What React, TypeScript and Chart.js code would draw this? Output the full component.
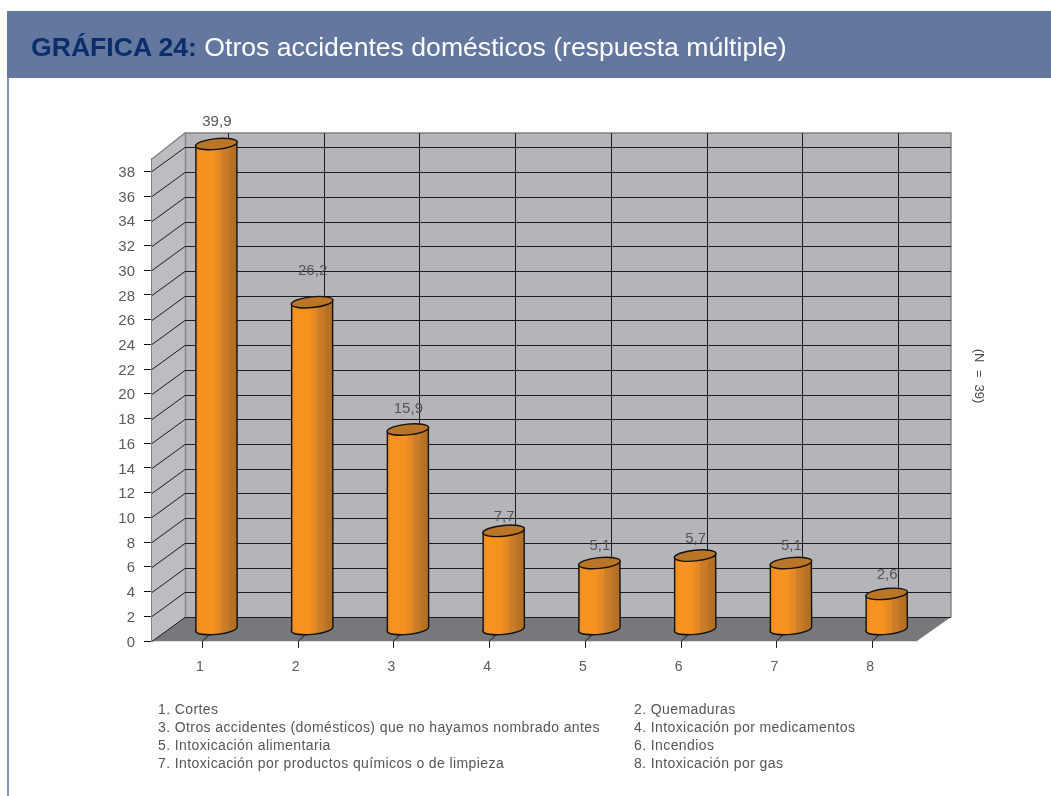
import React, { useEffect, useRef } from "react";
import { Chart, registerables } from "chart.js";

Chart.register(...registerables);

const categories = ["1", "2", "3", "4", "5", "6", "7", "8"];
const seriesValues = [39.9, 26.2, 15.9, 7.7, 5.1, 5.7, 5.1, 2.6];
const valueLabels = ["39,9", "26,2", "15,9", "7,7", "5,1", "5,7", "5,1", "2,6"];
const legendLeft = ["1. Cortes", "3. Otros accidentes (domésticos) que no hayamos nombrado antes", "5. Intoxicación alimentaria", "7. Intoxicación por productos químicos o de limpieza"];
const legendRight = ["2. Quemaduras", "4. Intoxicación por medicamentos", "6. Incendios", "8. Intoxicación por gas"];
const titleStrong = "GRÁFICA 24:";
const titleRest = " Otros accidentes domésticos (respuesta múltiple)";
const sideNote = "(N  =  39)";

const FONT = '"Liberation Sans", Arial, sans-serif';
const DEPTH_X = 33;
const DEPTH_Y = 24;
const labelLift = [37, 46, 36, 29, 32, 32, 32, 34];

const wallsPlugin = {
  id: "walls",
  beforeDatasetsDraw(chart: any) {
    const { ctx, chartArea: a, scales } = chart;
    const y = scales.y;
    const x = scales.x;
    ctx.save();
    // left wall
    ctx.beginPath();
    ctx.moveTo(a.left, a.top);
    ctx.lineTo(a.left + DEPTH_X, a.top - 26);
    ctx.lineTo(a.left + DEPTH_X, a.bottom - DEPTH_Y);
    ctx.lineTo(a.left, a.bottom);
    ctx.closePath();
    ctx.fillStyle = "#bcbdc1";
    ctx.fill();
    // back wall
    ctx.fillStyle = "#b4b5b9";
    ctx.fillRect(a.left + DEPTH_X, a.top - 26, a.right - a.left, a.bottom - a.top + 2);
    // floor
    ctx.beginPath();
    ctx.moveTo(a.left, a.bottom);
    ctx.lineTo(a.right - 1, a.bottom);
    ctx.lineTo(a.right + DEPTH_X, a.bottom - DEPTH_Y);
    ctx.lineTo(a.left + DEPTH_X, a.bottom - DEPTH_Y);
    ctx.closePath();
    ctx.fillStyle = "#77787c";
    ctx.fill();
    // outer edges of walls
    ctx.strokeStyle = "#808285";
    ctx.lineWidth = 1.4;
    ctx.beginPath();
    ctx.moveTo(a.left, a.top);
    ctx.lineTo(a.left + DEPTH_X, a.top - 26);
    ctx.lineTo(a.right + DEPTH_X, a.top - 26);
    ctx.lineTo(a.right + DEPTH_X, a.bottom - DEPTH_Y);
    ctx.moveTo(a.left + DEPTH_X + 0.5, a.top - 26);
    ctx.lineTo(a.left + DEPTH_X + 0.5, a.bottom - DEPTH_Y);
    ctx.stroke();
    ctx.strokeStyle = "#dcdde0";
    ctx.lineWidth = 1;
    ctx.beginPath();
    ctx.moveTo(a.left, a.bottom + 0.5);
    ctx.lineTo(a.right, a.bottom + 0.5);
    ctx.stroke();
    // value grid lines
    ctx.strokeStyle = "#1c1c1e";
    ctx.lineWidth = 1;
    y.ticks.forEach((t: any) => {
      const py = Math.round(y.getPixelForValue(t.value));
      ctx.beginPath();
      ctx.moveTo(a.left, py + 0.5);
      ctx.lineTo(a.left + DEPTH_X, py - DEPTH_Y + 0.5);
      ctx.lineTo(a.right + DEPTH_X, py - DEPTH_Y + 0.5);
      ctx.stroke();
    });
    // category grid lines on the back wall and floor, with tick stubs below the axis
    categories.forEach((_, i) => {
      const px = Math.round(x.getPixelForTick(i)) + 2;
      ctx.beginPath();
      ctx.moveTo(px + 0.5, a.bottom + 7);
      ctx.lineTo(px + 0.5, a.bottom);
      ctx.lineTo(px + 26.5, a.bottom - DEPTH_Y);
      ctx.lineTo(px + 26.5, a.top - 26);
      ctx.stroke();
    });
    ctx.restore();
  },
  afterDraw(chart: any) {
    const { ctx, chartArea: a } = chart;
    ctx.save();
    ctx.translate(a.right + 61, (a.top + a.bottom) / 2 - 24);
    ctx.rotate(Math.PI / 2);
    ctx.fillStyle = "#444";
    ctx.font = `13px ${FONT}`;
    ctx.textAlign = "center";
    ctx.textBaseline = "middle";
    ctx.fillText(sideNote, 0, 0);
    ctx.restore();
  },
};

const cylinderPlugin = {
  id: "cylinders",
  beforeDatasetDraw(chart: any, args: any) {
    const { ctx, chartArea: a, scales } = chart;
    const meta = chart.getDatasetMeta(args.index);
    const baseY = scales.y.getPixelForValue(0) - 12;
    const tilt = -0.1;
    ctx.save();
    meta.data.forEach((el: any, i: number) => {
      const w = el.width;
      const cx = el.x + 16.5;
      const l = cx - w / 2;
      const r = cx + w / 2;
      const topY = Math.max(el.y, a.top) - 15;
      const rx = w / 2 + 0.4;
      const ry = 5.4;
      const sk = 2.2;
      const grad = ctx.createLinearGradient(l, 0, r, 0);
      grad.addColorStop(0, "#ec8b20");
      grad.addColorStop(0.12, "#f7931f");
      grad.addColorStop(0.42, "#f5921f");
      grad.addColorStop(0.5, "#ea8b22");
      grad.addColorStop(0.62, "#df8725");
      grad.addColorStop(0.63, "#cf7f28");
      grad.addColorStop(0.8, "#c67a28");
      grad.addColorStop(0.81, "#bc7426");
      grad.addColorStop(1, "#b16d22");
      ctx.beginPath();
      ctx.moveTo(l, topY + sk);
      ctx.lineTo(l, baseY + sk);
      ctx.ellipse(cx, baseY, rx, ry, tilt, Math.PI, 0, true);
      ctx.lineTo(r, topY - sk);
      ctx.closePath();
      ctx.fillStyle = grad;
      ctx.fill();
      ctx.strokeStyle = "#111";
      ctx.lineWidth = 1.4;
      ctx.stroke();
      ctx.beginPath();
      ctx.ellipse(cx, topY, rx, ry, tilt, 0, Math.PI * 2);
      ctx.fillStyle = "#bb7526";
      ctx.fill();
      ctx.stroke();
      ctx.fillStyle = "#555";
      ctx.font = `15px ${FONT}`;
      ctx.textAlign = "center";
      ctx.textBaseline = "middle";
      ctx.fillText(valueLabels[i], el.x + 17, Math.max(el.y, a.top) - labelLift[i]);
    });
    ctx.restore();
    return false;
  },
};

export default function App() {
  const ref = useRef<HTMLCanvasElement>(null);
  useEffect(() => {
    const canvas = ref.current;
    if (!canvas) return;
    const chart = new Chart(canvas, {
      type: "bar",
      data: {
        labels: categories,
        datasets: [
          {
            label: "Otros accidentes domésticos",
            data: seriesValues,
            backgroundColor: "#f7931f",
            borderColor: "#111",
            categoryPercentage: 1,
            barPercentage: 0.428,
          },
        ],
      },
      options: {
        responsive: false,
        animation: false,
        devicePixelRatio: 1,
        layout: { padding: { top: 159, right: 133, left: 0, bottom: 0 } },
        plugins: { legend: { display: false }, tooltip: { enabled: false }, title: { display: false } },
        scales: {
          x: {
            offset: true,
            afterFit: (s: any) => {
              s.height = 155;
            },
            grid: { display: false, drawTicks: false },
            border: { display: false },
            ticks: { color: "#5a5a5a", font: { family: FONT, size: 14 }, padding: 18, maxRotation: 0 },
          },
          y: {
            min: 0,
            max: 39,
            afterFit: (s: any) => {
              s.width = 152;
            },
            border: { display: true, color: "#808285", width: 2 },
            grid: { display: true, drawOnChartArea: false, drawTicks: true, tickLength: 8, tickColor: "#111", color: "#111" },
            ticks: { stepSize: 2, includeBounds: false, color: "#5a5a5a", font: { family: FONT, size: 15 }, padding: 9, labelOffset: 1.5 },
          },
        },
      },
      plugins: [wallsPlugin, cylinderPlugin],
    });
    return () => chart.destroy();
  }, []);

  const legendStyle: React.CSSProperties = {
    position: "absolute",
    fontFamily: FONT,
    fontSize: 14,
    lineHeight: "18px",
    color: "#555",
    letterSpacing: "0.4px",
    whiteSpace: "nowrap",
  };

  return (
    <div style={{ position: "absolute", left: 0, top: 0, width: 1051, height: 796, overflow: "hidden", background: "#fff" }}>
      <canvas ref={ref} width={1051} height={796} style={{ position: "absolute", left: 0, top: 0, width: 1051, height: 796, display: "block" }} />
      <div
        style={{
          position: "absolute",
          left: 7,
          top: 11,
          width: 1044,
          height: 67,
          background: "#64779f",
          fontFamily: FONT,
          fontSize: 26.6,
          lineHeight: "72px",
          whiteSpace: "pre",
          color: "#fff",
        }}
      >
        <span style={{ position: "absolute", left: 24, top: 0 }}>
          <b style={{ color: "#0a2e6b" }}>{titleStrong}</b>
          {titleRest}
        </span>
      </div>
      <div style={{ position: "absolute", left: 7, top: 78, width: 2, height: 718, background: "#8a96b8" }} />
      <div style={{ ...legendStyle, left: 158, top: 700 }}>
        {legendLeft.map((t) => (
          <div key={t}>{t}</div>
        ))}
      </div>
      <div style={{ ...legendStyle, left: 634, top: 700 }}>
        {legendRight.map((t) => (
          <div key={t}>{t}</div>
        ))}
      </div>
    </div>
  );
}
